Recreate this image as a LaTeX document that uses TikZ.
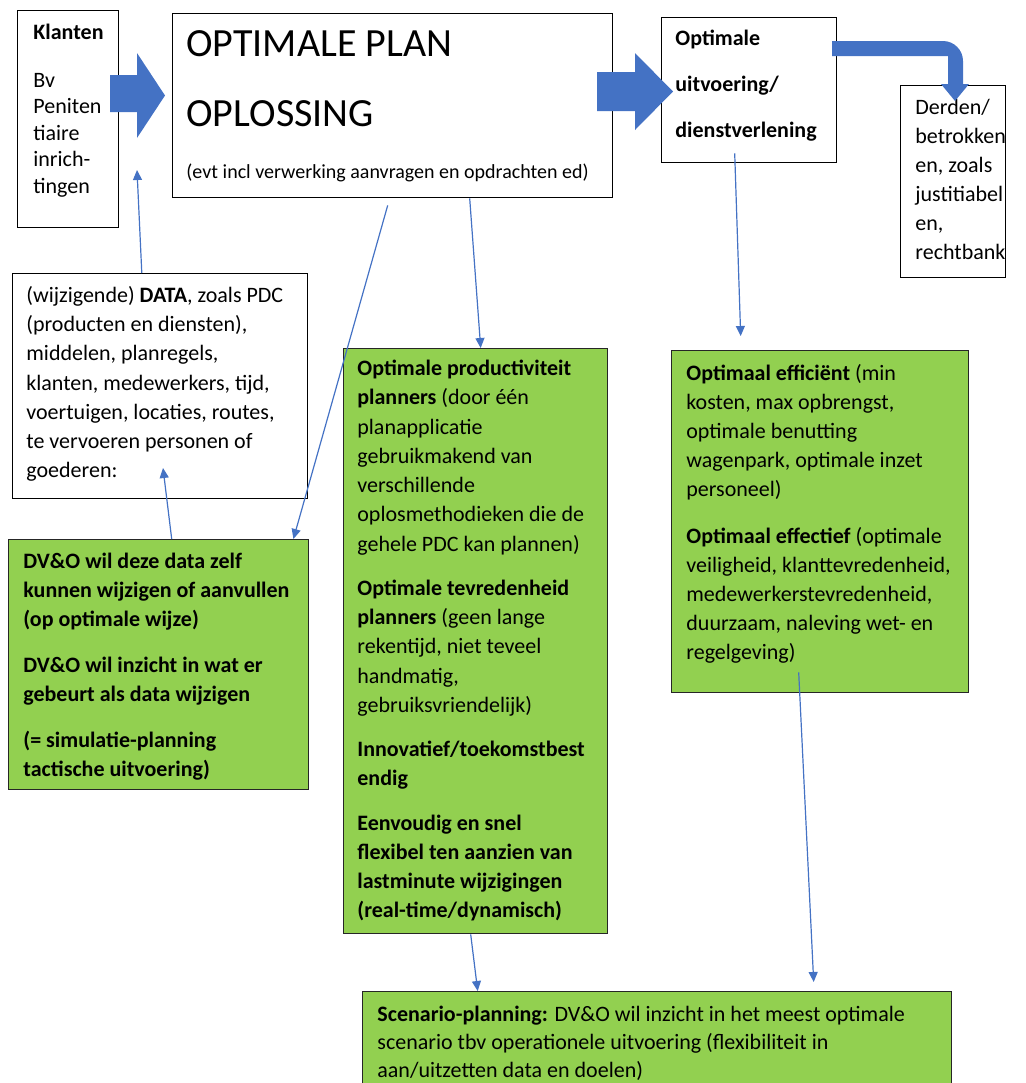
\documentclass[tikz,border=0pt]{standalone}
\usepackage{fontspec}
\setmainfont{Carlito}
\usetikzlibrary{arrows.meta,positioning}
\definecolor{officegreen}{HTML}{92D050}
\definecolor{officeblue}{HTML}{4472C4}
\definecolor{frame}{HTML}{262626}
\tikzset{
  whitebox/.style={draw=black, line width=0.7pt, fill=white, anchor=north west, inner sep=0pt},
  greenbox/.style={draw=frame, line width=0.7pt, fill=officegreen, anchor=north west, inner sep=0pt},
  boxtext/.style={anchor=north west, align=left, inner sep=0pt, font=\fontsize{11}{14.5}\selectfont},
  thinarrow/.style={draw=officeblue, line width=0.6pt, -{Triangle[length=5pt,width=4.5pt]}},
  blockarrow/.style={fill=officeblue}
}

\begin{document}
\begin{tikzpicture}[x=0.5pt,y=-0.5pt]
\useasboundingbox (0,0) rectangle (1025,1083);
\clip (0,0) rectangle (1025,1083);

% top row
\node[whitebox, minimum width=50.5pt, minimum height=108.5pt] (klanten) at (17,10) {};
\node[whitebox, minimum width=220pt, minimum height=92pt] (plan) at (172,13) {};
\node[whitebox, minimum width=87.5pt, minimum height=72.5pt] (uitv) at (661,17) {};
\node[whitebox, minimum width=52.5pt, minimum height=96pt] (derden) at (900,85) {};

% middle + lower boxes
\node[whitebox, minimum width=147.5pt, minimum height=112.5pt] (data) at (12,273) {};
\node[greenbox, minimum width=150pt, minimum height=125pt] (dvo) at (8,539) {};
\node[greenbox, minimum width=132pt, minimum height=292.5pt] (prod) at (343,348) {};
\node[greenbox, minimum width=148.5pt, minimum height=171pt] (eff) at (671,350) {};
\node[greenbox, minimum width=294.5pt, minimum height=60pt] (scen) at (362,991) {};

% texts (\strut fixes the first baseline)
\node[boxtext, font=\fontsize{11}{13.3}\selectfont] (klantentxt) at (33,20.4)
  {\strut\textbf{Klanten}\\[10.5pt]Bv\\Peniten\\tiaire\\inrich-\\tingen};
\node[boxtext, font=\fontsize{20}{35}\selectfont] (plantxt) at (186,7)
  {\strut OPTIMALE PLAN\\OPLOSSING};
\node[boxtext, anchor=base west, font=\fontsize{10}{12}\selectfont] (plansub) at (186,178)
  {(evt incl verwerking aanvragen en opdrachten ed)};
\node[boxtext, font=\bfseries\fontsize{11}{23}\selectfont] (uitvtxt) at (675,12.8)
  {\strut Optimale\\uitvoering/\\dienstverlening};
\node[boxtext] (derdentxt) at (915,94)
  {\strut Derden/\\betrokken\\en, zoals\\justitiabel\\en,\\rechtbank};
\node[boxtext, font=\fontsize{11}{14.6}\selectfont] (datatxt) at (26,281.6)
  {\strut(wijzigende) \textbf{DATA}, zoals PDC\\(producten en diensten),\\middelen, planregels,\\klanten, medewerkers, tijd,\\voertuigen, locaties, routes,\\te vervoeren personen of\\goederen:};
\node[boxtext, font=\bfseries\fontsize{11}{14.5}\selectfont] (dvotxt) at (23,547.7)
  {\strut DV\&O wil deze data zelf\\kunnen wijzigen of aanvullen\\(op optimale wijze)\\[8.5pt]
   DV\&O wil inzicht in wat er\\gebeurt als data wijzigen\\[8.5pt]
   (= simulatie-planning\\tactische uitvoering)};
\node[boxtext, font=\fontsize{11}{14.65}\selectfont] (prodtxt) at (357,354.5)
  {\strut\textbf{Optimale productiviteit}\\\textbf{planners} (door één\\planapplicatie\\gebruikmakend van\\verschillende\\oplosmethodieken die de\\gehele PDC kan plannen)\\[7.4pt]
   \textbf{Optimale tevredenheid}\\\textbf{planners} (geen lange\\rekentijd, niet teveel\\handmatig,\\gebruiksvriendelijk)\\[7.4pt]
   \textbf{Innovatief/toekomstbest}\\\textbf{endig}\\[7.4pt]
   \textbf{Eenvoudig en snel}\\\textbf{flexibel ten aanzien van}\\\textbf{lastminute wijzigingen}\\\textbf{(real-time/dynamisch)}};
\node[boxtext] (efftxt) at (686,359.5)
  {\strut\textbf{Optimaal efficiënt} (min\\kosten, max opbrengst,\\optimale benutting\\wagenpark, optimale inzet\\personeel)\\[9pt]
   \textbf{Optimaal effectief} (optimale\\veiligheid, klanttevredenheid,\\medewerkerstevredenheid,\\duurzaam, naleving wet- en\\regelgeving)};
\node[boxtext, font=\fontsize{11}{14}\selectfont] (scentxt) at (377,1001.5)
  {\strut\textbf{Scenario-planning:} DV\&O wil inzicht in het meest optimale\\scenario tbv operationele uitvoering (flexibiliteit in\\aan/uitzetten data en doelen)};

% block arrows
\fill[blockarrow] (110,75) -- (137,75) -- (137,53) -- (165,95.5) -- (137,138) -- (137,112) -- (110,112) -- cycle;
\fill[blockarrow] (597,72) -- (635,72) -- (635,53) -- (673,91.5) -- (635,130) -- (635,111) -- (597,111) -- cycle;
\fill[blockarrow] (832,41) -- (943,41) arc[start angle=90, end angle=0, radius=10pt]
  -- (963,84) -- (969,84) -- (955,101) -- (941,84) -- (948,84) -- (948,56) -- (832,56) -- cycle;

% thin connectors
\coordinate (klantenpt) at (137,170);
\coordinate (datapt) at (163,468);
\draw[thinarrow] ([xshift=-9.2pt]data.north) -- (klantenpt);
\draw[thinarrow] ([xshift=6.5pt]dvo.north) -- (datapt);
\draw[thinarrow] ([xshift=-2.5pt,yshift=-3.5pt]plan.south) -- ([xshift=-8pt]dvo.north east);
\draw[thinarrow] ([xshift=38.5pt]plan.south) -- ([xshift=2.5pt]prod.north);
\draw[thinarrow] ([xshift=-7.25pt,yshift=5pt]uitv.south) -- ([xshift=-39.75pt,yshift=7pt]eff.north);
\draw[thinarrow] ([xshift=-2.5pt]prod.south) -- ([xshift=-89.75pt]scen.north);
\draw[thinarrow] ([xshift=-10.75pt,yshift=10.5pt]eff.south) -- ([xshift=78.25pt,yshift=4.5pt]scen.north);
\end{tikzpicture}
\end{document}
